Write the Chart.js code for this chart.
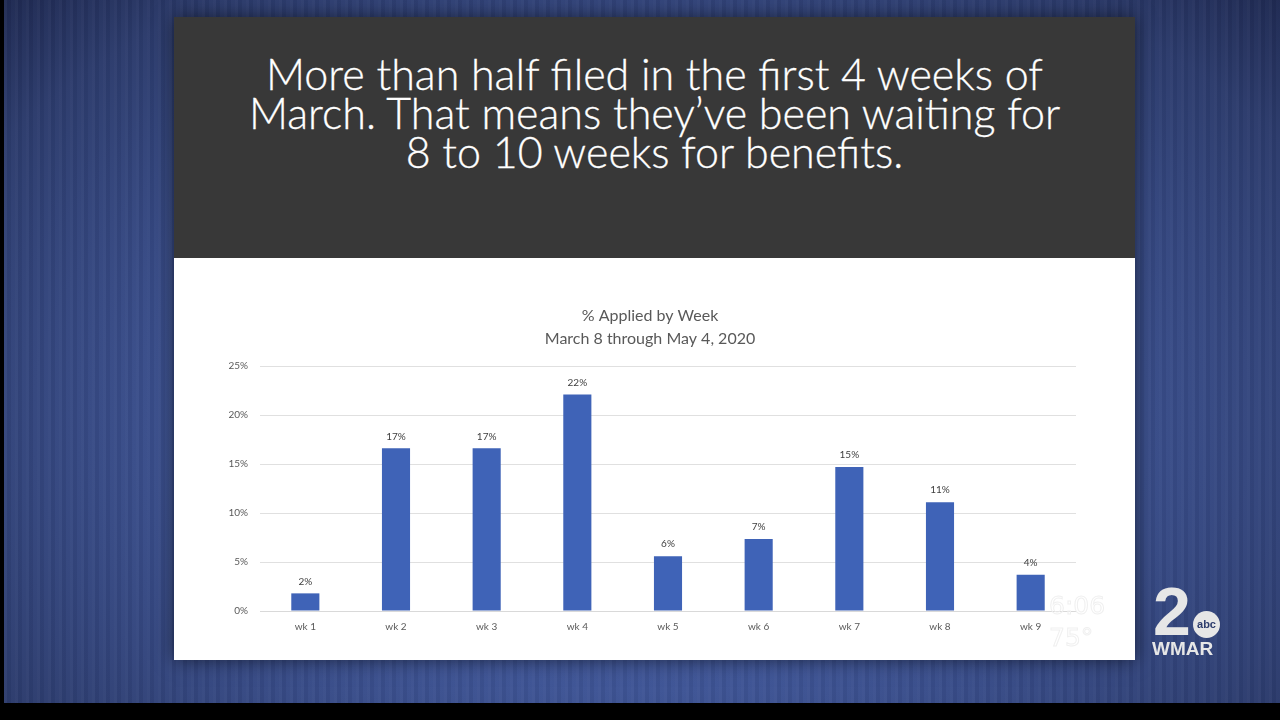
<!DOCTYPE html>
<html>
<head>
<meta charset="utf-8">
<script src="https://cdn.jsdelivr.net/npm/chart.js@4/dist/chart.umd.min.js"></script>
<style>
  html, body { margin: 0; padding: 0; }
  body {
    width: 1280px; height: 720px; overflow: hidden; position: relative;
    background: #000;
    font-family: Lato, "Open Sans", sans-serif;
  }
  #bg {
    position: absolute; left: 4px; top: 0; width: 1276px; height: 703px;
    background:
      repeating-linear-gradient(90deg, rgba(255,255,255,0.03) 0 3px, rgba(0,0,0,0.04) 3px 7px, rgba(255,255,255,0.015) 7px 11px),
      radial-gradient(ellipse at 50% 60%, #4a62a8 0%, #3e5495 45%, #2c3b6c 85%, #1f2a52 100%);
  }
  #slide {
    position: absolute; left: 174px; top: 17px; width: 961px; height: 643px;
    box-shadow: 0 0 18px rgba(0,0,0,0.55);
  }
  #header {
    position: absolute; left: 0; top: 0; width: 961px; height: 241px;
    background: #383838; color: #fff;
    text-align: center; font-size: 43px; font-weight: 300; line-height: 39px;
    -webkit-text-stroke: 0.3px #fff;
  }
  #header div { padding-top: 37px; }
  #panel {
    position: absolute; left: 0; top: 241px; width: 961px; height: 402px; background: #fff;
  }
  #clock {
    position: absolute; left: 1049px; top: 590px; color: rgba(0,0,0,0);
    -webkit-text-stroke: 1px #f0f0f0; font-family: "DejaVu Sans", sans-serif;
    font-size: 25px; line-height: 32px; text-align: left;
  }
  #logo { position: absolute; left: 1150px; top: 588px; width: 75px; height: 70px; color: #e6e6e6; }
  #logo .two { position: absolute; left: 3px; top: -16px; font: 700 68px "Liberation Sans", sans-serif; }
  #logo .abc {
    position: absolute; left: 43px; top: 23px; width: 27px; height: 27px; border-radius: 50%;
    background: #e6e6e6; color: #2c3b6c; font: 700 11px "Liberation Sans", sans-serif;
    line-height: 27px; text-align: center;
  }
  #logo .call { position: absolute; left: 2px; top: 50px; font: 700 19px "Liberation Sans", sans-serif; }
</style>
</head>
<body>
<div id="bg"></div>
<div id="slide">
  <div id="header"><div>More than half filed in the first 4 weeks of<br>March. That means they’ve been waiting for<br>8 to 10 weeks for benefits.</div></div>
  <div id="panel"><canvas id="chart" width="961" height="402"></canvas></div>
</div>
<div id="clock">6:06<br>75°</div>
<div id="logo"><span class="two">2</span><span class="abc">abc</span><span class="call">WMAR</span></div>
<script>
const weeks = ["wk 1", "wk 2", "wk 3", "wk 4", "wk 5", "wk 6", "wk 7", "wk 8", "wk 9"];
const pctApplied = [1.8, 16.6, 16.6, 22.1, 5.6, 7.35, 14.7, 11.1, 3.7];
const chartTitle = ["% Applied by Week", "March 8 through May 4, 2020"];

// value labels above each bar
const barLabels = {
  id: "barLabels",
  afterDatasetsDraw(chart) {
    const c = chart.ctx;
    c.save();
    c.fillStyle = "#404040";
    c.font = "10px Lato, 'Open Sans', sans-serif";
    c.textAlign = "center";
    c.textBaseline = "bottom";
    chart.getDatasetMeta(0).data.forEach((bar, i) => {
      c.fillText(Math.round(pctApplied[i]) + "%", bar.x, bar.y - 7);
    });
    c.restore();
  }
};

new Chart(document.getElementById("chart"), {
  type: "bar",
  data: {
    labels: weeks,
    datasets: [{
      data: pctApplied,
      backgroundColor: "#3f63b7",
      categoryPercentage: 1,
      barPercentage: 0.31
    }]
  },
  options: {
    responsive: false,
    animation: false,
    layout: { padding: { left: 50, right: 59, top: 46, bottom: 0 } },
    plugins: {
      legend: { display: false },
      tooltip: { enabled: false },
      title: {
        display: true,
        text: chartTitle,
        color: "#595959",
        font: { size: 16, family: "Lato, 'Open Sans', sans-serif", weight: "normal", lineHeight: 1.44 },
        padding: { top: 0, bottom: 16 }
      }
    },
    scales: {
      x: {
        grid: { display: false, drawTicks: false },
        border: { color: "#d9d9d9" },
        ticks: { color: "#595959", font: { size: 10, family: "Lato, 'Open Sans', sans-serif" }, padding: 10 },
        afterFit(s) { s.height = 49; }
      },
      y: {
        min: 0, max: 25,
        grid: { color: "#e0e0e0", drawTicks: false },
        border: { display: false },
        ticks: {
          stepSize: 5, padding: 12, color: "#595959",
          font: { size: 10, family: "Lato, 'Open Sans', sans-serif" },
          callback: v => v + "%"
        },
        afterFit(s) { s.width = 36; }
      }
    }
  },
  plugins: [barLabels]
});
</script>
</body>
</html>
